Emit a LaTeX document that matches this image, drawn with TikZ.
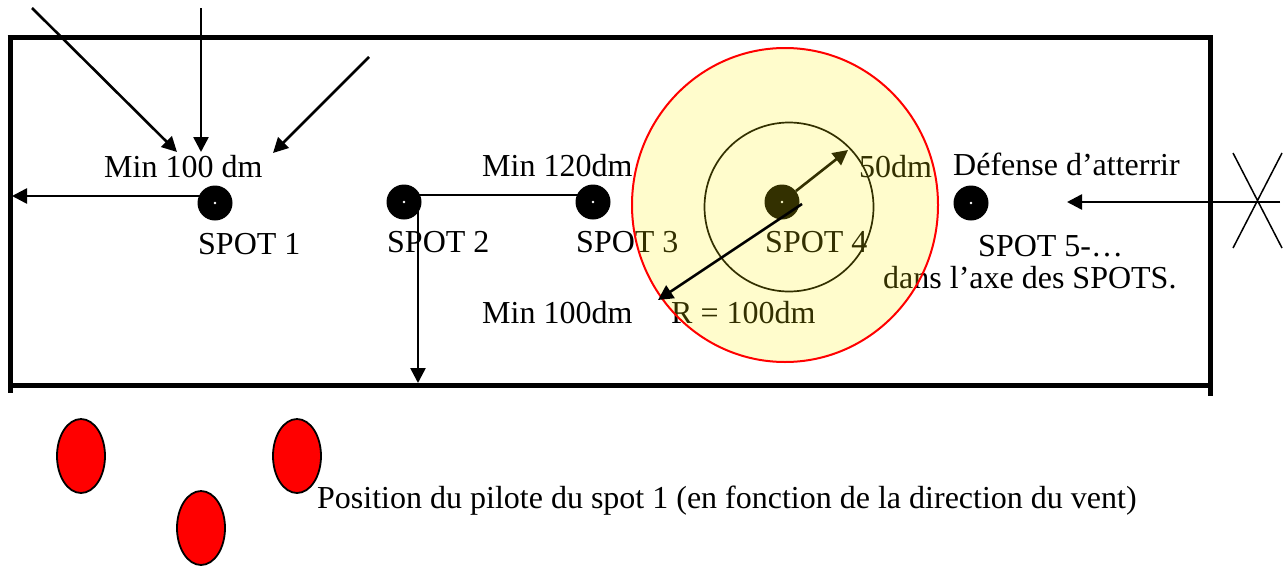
\documentclass[tikz,border=0pt]{standalone}
\usepackage{fontspec}
\setmainfont{Liberation Serif}
\usetikzlibrary{arrows.meta,shapes.geometric}
\begin{document}
\begin{tikzpicture}[x=1pt,y=-1pt,
  txt/.style={anchor=base west,inner sep=0pt,font=\fontsize{32}{36}\selectfont},
  spotdot/.style={circle,fill=black,minimum size=35pt,inner sep=0pt},
  arr/.style={line width=2.6pt,-{Triangle[length=15pt,width=15pt]}},
  plain/.style={line width=2.6pt},
  border/.style={line width=5pt},
  pilot/.style={ellipse,draw=black,line width=1.8pt,fill=red,minimum width=48pt,minimum height=74pt,inner sep=0pt}]
\useasboundingbox (0,0) rectangle (1287,565);
% field
\draw[border] (7.5,37) -- (1212.5,37);
\draw[border] (10,37) -- (10,393);
\draw[border] (10,385) -- (1210,385);
\draw[border] (1210,37) -- (1210,396);
% spots
\node[spotdot] (s1) at (215,203) {};
\node[spotdot] (s2) at (404,202) {};
\node[spotdot] (s3) at (593,202) {};
\node[spotdot] (s4) at (782,202) {};
\node[spotdot] (s5) at (971,203) {};
\foreach \s in {s1,s2,s3,s4,s5} \fill[white] (\s) circle (1.3);
% coordinates
\coordinate (w1s) at (32,8);   \coordinate (w1e) at (177,152);
\coordinate (w2s) at (201,8);  \coordinate (w2e) at (201,152);
\coordinate (w3s) at (369,57); \coordinate (w3e) at (273,153);
\coordinate (left1) at (12,196);
\coordinate (bot2) at (418,383);
\coordinate (r50) at (848,150);
\coordinate (rstart) at (802,204);
\coordinate (r100) at (658,300);
\coordinate (ins) at (1280,202);
\coordinate (ine) at (1067,202);
% wind arrows
\draw[arr] (w1s) -- (w1e);
\draw[arr] (w2s) -- (w2e);
\draw[arr] (w3s) -- (w3e);
% distances
\draw[arr] ([yshift=7pt]s1.center) -- (left1);
\draw[plain] ([yshift=7pt]s2.center) -- ([yshift=7pt]s3.center);
\draw[arr] ([xshift=14pt]s2.center) -- (bot2);
\draw[arr] (s4) -- (r50);
\draw[line width=1.7pt] (789,207) circle (84.5);
% forbidden approach
\draw[arr] (ins) -- (ine);
\draw[line width=1.5pt] (1233,153) -- (1282,248) (1282,153) -- (1233,248);
% texts
\node[txt] (t1) at (104,177) {Min 100 dm};
\node[txt] (t2) at (198,254) {SPOT 1};
\node[txt] (t3) at (387,252) {SPOT 2};
\node[txt] (t4) at (576,252) {SPOT 3};
\node[txt] (t5) at (765,252) {SPOT 4};
\node[txt] (t6) at (482,176) {Min 120dm};
\node[txt] (t7) at (482,323) {Min 100dm};
\node[txt] (t8) at (859,177) {50dm};
\node[txt] (t9) at (671,323) {R = 100dm};
\node[txt] (t10) at (953,175) {Défense d’atterrir};
\node[txt] (t11) at (978,256) {SPOT 5-…};
\node[txt] (t12) at (883,288) {dans l’axe des SPOTS.};
\node[txt] (t13) at (317,508) {Position du pilote du spot 1 (en fonction de la direction du vent)};
% zone overlay
\draw[draw=red,line width=2pt,fill=yellow,fill opacity=0.2] (785,205) ellipse [x radius=153, y radius=157];
\draw[arr] (rstart) -- (r100);
% pilot positions
\node[pilot] (p1) at (81,456) {};
\node[pilot] (p2) at (297,456) {};
\node[pilot] (p3) at (201,528) {};
\end{tikzpicture}
\end{document}
